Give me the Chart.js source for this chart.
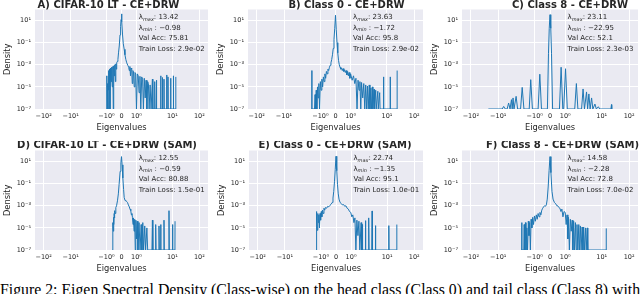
<!DOCTYPE html>
<html>
<head>
<meta charset="utf-8">
<script src="https://cdn.jsdelivr.net/npm/chart.js@4.4.0/dist/chart.umd.min.js"></script>
<style>
  html, body { margin: 0; padding: 0; background: #fff; }
  body { width: 640px; height: 294px; position: relative; overflow: hidden; }
  canvas { position: absolute; }
  #caption { position: absolute; left: 0; top: 282px; white-space: nowrap;
             font: 15.8px/16px "Liberation Serif", serif; color: #000; }
</style>
</head>
<body>
<div id="caption">Figure 2: Eigen Spectral Density (Class-wise) on the head class (Class 0) and tail class (Class 8) with</div>
<script>
// axis ticks
const xTicks = [-100, -10, -1, 0, 1, 10, 100];
const xTickLabels = ['−10²', '−10¹', '−10⁰', '0', '10⁰', '10¹', '10²'];
const yTicks = [1e-7, 1e-5, 1e-3, 1e-1, 1e1];
const yTickLabels = ['10⁻⁷', '10⁻⁵', '10⁻³', '10⁻¹', '10¹'];

const titles = [
  'A) CIFAR-10 LT - CE+DRW',
  'B) Class 0 - CE+DRW',
  'C) Class 8 - CE+DRW',
  'D) CIFAR-10 LT - CE+DRW (SAM)',
  'E) Class 0 - CE+DRW (SAM)',
  'F) Class 8 - CE+DRW (SAM)'
];
const lambdaMax = ['13.42', '23.63', '23.11', '12.55', '22.74', '14.58'];
const lambdaMin = ['−0.98', '−1.72', '−22.95', '−0.59', '−1.35', '−2.28'];
const valAcc = ['75.81', '95.8', '52.1', '80.88', '95.1', '72.8'];
const trainLoss = ['2.9e-02', '2.9e-02', '2.3e-03', '1.5e-01', '1.0e-01', '7.0e-02'];

// eigen spectral density, [eigenvalue, density]
const esdA = [
  [-0.99, 1e-7], [-0.98, 1e-4], [-0.96, 1e-7], [-0.93, 2e-5], [-0.9, 1e-7], [-0.87, 3e-4],
  [-0.84, 5e-6], [-0.8, 4e-4], [-0.77, 1e-7], [-0.74, 5e-4], [-0.7, 3e-5], [-0.66, 6e-4],
  [-0.62, 1e-5], [-0.58, 7e-4], [-0.55, 1e-7], [-0.52, 8e-4], [-0.48, 1e-4], [-0.45, 1e-3],
  [-0.41, 3e-5], [-0.38, 1.2e-3], [-0.35, 4e-4], [-0.32, 1.5e-3], [-0.28, 2e-3], [-0.24, 3e-3],
  [-0.2, 1.2e-2], [-0.15, 5e-2], [-0.1, 0.5], [-0.06, 3], [-0.03, 12], [0, 40], [0.03, 8],
  [0.07, 0.5], [0.12, 0.08], [0.18, 2.5e-2], [0.23, 8e-3], [0.29, 3e-3], [0.35, 1.5e-3],
  [0.42, 9e-4], [0.48, 6e-4], [0.52, 3e-4], [0.56, 7e-4], [0.6, 1e-4], [0.64, 5e-4],
  [0.68, 4e-4], [0.72, 2e-5], [0.76, 3e-4], [0.8, 2.5e-4], [0.85, 1e-5], [0.9, 2e-4],
  [0.95, 1.5e-4], [1.0, 1e-7], [1.06, 1.5e-4], [1.12, 1e-4], [1.18, 3e-6], [1.25, 9e-5],
  [1.32, 1e-7], [1.4, 8e-5], [1.48, 5e-5], [1.56, 1e-7], [1.65, 6e-5], [1.75, 1e-6],
  [1.85, 4e-5], [1.95, 1e-7], [2.05, 3e-5], [2.15, 2e-5], [2.25, 1e-7], [2.4, 1.5e-5],
  [2.55, 1e-7], [2.7, 1e-7], [2.78, 5e-5], [2.86, 1e-7], [3.15, 1e-7], [3.22, 3e-5],
  [3.3, 1e-7], [3.52, 1e-7], [3.59, 4e-5], [3.66, 1e-7], [4.65, 1e-7], [4.73, 1e-4],
  [4.81, 1e-7], [5.2, 1e-7], [5.27, 7e-5], [5.34, 1e-7], [5.77, 1e-7], [5.84, 5e-5],
  [5.91, 1e-7], [6.87, 1e-7], [6.95, 1.2e-4], [7.03, 1e-7], [7.47, 1e-7], [7.55, 8e-5],
  [7.63, 1e-7], [8.88, 1e-7], [8.97, 6e-5], [9.06, 1e-7], [10.8, 1e-7], [10.9, 1e-4],
  [11.0, 1e-7], [13.3, 1e-7], [13.42, 8e-5]
];
const esdB = [
  [-1.73, 1e-7], [-1.72, 3e-4], [-1.7, 1e-7], [-1.45, 1e-7], [-1.4, 2e-6], [-1.36, 1e-7],
  [-1.3, 5e-6], [-1.25, 1e-7], [-1.2, 1e-5], [-1.15, 1e-6], [-1.1, 2e-5], [-1.05, 1e-7],
  [-1.0, 3e-5], [-0.95, 5e-6], [-0.9, 5e-5], [-0.85, 1e-5], [-0.8, 8e-5], [-0.75, 3e-5],
  [-0.7, 1.5e-4], [-0.65, 6e-5], [-0.6, 2.5e-4], [-0.55, 1.5e-4], [-0.5, 4e-4], [-0.45, 3e-4],
  [-0.4, 6e-4], [-0.35, 9e-4], [-0.3, 1.5e-3], [-0.25, 3e-3], [-0.2, 8e-3], [-0.15, 3e-2],
  [-0.1, 0.2], [-0.05, 2], [0, 30], [0.05, 1.5], [0.1, 0.1], [0.15, 1.2e-2], [0.2, 2.5e-3],
  [0.25, 1e-3], [0.3, 6e-4], [0.35, 4e-4], [0.4, 5e-4], [0.45, 3e-4], [0.5, 4.5e-4],
  [0.55, 2.5e-4], [0.6, 3.5e-4], [0.65, 2e-4], [0.7, 3e-4], [0.75, 1.2e-4], [0.8, 2.5e-4],
  [0.85, 1e-4], [0.9, 2e-4], [0.95, 6e-5], [1.0, 1.5e-4], [1.1, 4e-5], [1.2, 1e-4],
  [1.3, 2e-5], [1.4, 6e-5], [1.5, 1e-7], [1.6, 4e-5], [1.7, 5e-6], [1.8, 3e-5], [1.9, 1e-7],
  [2.0, 2.5e-5], [2.15, 1e-6], [2.3, 2e-5], [2.45, 1e-7], [2.6, 1.5e-5], [2.75, 1e-7],
  [2.9, 1.2e-5], [3.05, 1e-7], [3.25, 1.5e-5], [3.4, 1e-7], [3.6, 8e-6], [3.75, 1e-7],
  [3.95, 1e-5], [4.1, 1e-7], [4.4, 6e-6], [4.55, 1e-7], [4.9, 5e-6], [5.05, 1e-7],
  [5.6, 4e-6], [5.75, 1e-7], [6.3, 3e-6], [6.45, 1e-7], [7.95, 1e-7], [8.05, 8e-5],
  [8.15, 1e-7], [13.1, 1e-7], [13.2, 8e-5], [13.3, 1e-7], [23.5, 1e-7], [23.63, 3e-4]
];
const esdC = [
  [-22.95, 1e-7], [-7.8, 1e-7], [-7.1, 1.7e-7], [-6.4, 1e-7], [-5.7, 1e-7], [-5.2, 3.5e-7],
  [-4.75, 1e-7], [-4.6, 1e-7], [-4.35, 7e-7], [-4.15, 1e-7], [-3.93, 1e-6], [-3.7, 1e-7],
  [-3.55, 1e-7], [-3.24, 1.4e-6], [-2.95, 1e-7], [-2.45, 1e-7], [-2.21, 9e-6], [-1.98, 1e-7],
  [-1.42, 1e-7], [-1.29, 4.5e-5], [-1.16, 1e-7], [-0.78, 1e-7], [-0.67, 1.4e-4], [-0.56, 1e-7],
  [-0.17, 1e-7], [-0.1, 1e-2], [-0.05, 2], [0, 34], [0.05, 2], [0.1, 1e-2], [0.17, 1e-7],
  [0.62, 1e-7], [0.73, 6e-4], [0.84, 1e-7], [0.9, 1e-7], [1.02, 4.4e-4], [1.14, 1e-7],
  [1.82, 1e-7], [2.02, 2e-5], [2.22, 1e-7], [2.8, 1e-7], [3.08, 6.5e-6], [3.36, 1e-7],
  [3.83, 3.5e-6], [4.1, 1e-7], [4.44, 2.3e-6], [4.8, 1e-7], [5.27, 1e-6], [5.7, 1e-7],
  [6.5, 2.8e-7], [7.1, 1e-7], [8.05, 1.6e-7], [8.8, 1e-7], [21.6, 1e-7], [22.6, 2.5e-7],
  [23.11, 1e-7]
];
const esdD = [
  [-0.6, 1e-7], [-0.59, 6e-6], [-0.57, 3e-5], [-0.55, 5e-6], [-0.53, 9e-5], [-0.51, 2e-5],
  [-0.49, 2e-4], [-0.47, 8e-5], [-0.45, 3.6e-4], [-0.42, 2e-4], [-0.38, 7e-4], [-0.33, 1e-3],
  [-0.27, 2.8e-3], [-0.21, 1.2e-2], [-0.16, 8.5e-2], [-0.09, 1.3], [-0.04, 8], [0, 28],
  [0.04, 5], [0.09, 0.33], [0.14, 3e-2], [0.18, 5.5e-3], [0.24, 3e-3], [0.29, 2.8e-3],
  [0.35, 2.4e-3], [0.4, 2e-3], [0.46, 1.2e-3], [0.52, 8e-4], [0.57, 5e-4], [0.62, 3.6e-4],
  [0.66, 1.5e-4], [0.7, 2e-4], [0.73, 9e-5], [0.77, 2e-5], [0.8, 8e-5], [0.84, 5e-6],
  [0.88, 6e-5], [0.92, 1e-7], [0.96, 5e-5], [1.0, 1e-6], [1.05, 4e-5], [1.1, 1e-7],
  [1.18, 3e-5], [1.26, 1e-7], [1.35, 2e-5], [1.42, 1e-7], [1.5, 3e-5], [1.58, 1e-7],
  [1.7, 1.5e-5], [1.8, 1e-7], [1.95, 1e-5], [2.05, 1e-7], [2.7, 1e-7], [2.78, 5e-5],
  [2.86, 1e-7], [3.35, 1e-7], [3.43, 2e-5], [3.51, 1e-7], [4.15, 1e-7], [4.24, 1.5e-5],
  [4.33, 1e-7], [4.65, 1e-7], [4.73, 2e-5], [4.81, 1e-7], [5.75, 1e-7], [5.84, 5e-5],
  [5.95, 1e-7], [7.9, 1e-7], [8.05, 3.6e-4], [8.2, 1e-7], [10.1, 1e-7], [10.2, 2e-5],
  [10.3, 1e-7], [12.45, 1e-7], [12.55, 4e-5]
];
const esdE = [
  [-1.36, 1e-7], [-1.35, 3e-4], [-1.32, 5e-6], [-1.29, 1e-4], [-1.26, 6e-6], [-1.22, 2e-4],
  [-1.18, 3e-5], [-1.14, 1.5e-4], [-1.1, 1e-5], [-1.06, 2e-4], [-1.02, 5e-5], [-0.98, 3e-4],
  [-0.94, 1e-4], [-0.9, 4e-4], [-0.85, 2e-4], [-0.8, 6e-4], [-0.75, 4e-4], [-0.7, 7e-4],
  [-0.62, 6e-4], [-0.55, 9e-4], [-0.48, 8e-4], [-0.4, 1.1e-3], [-0.32, 1.4e-3], [-0.25, 2e-3],
  [-0.2, 5e-3], [-0.15, 2e-2], [-0.1, 0.15], [-0.05, 2], [0, 30], [0.05, 1.5], [0.1, 0.08],
  [0.15, 1.2e-2], [0.2, 4e-3], [0.27, 2e-3], [0.35, 1.6e-3], [0.42, 1.2e-3], [0.5, 1.3e-3],
  [0.58, 9e-4], [0.66, 1e-3], [0.74, 6e-4], [0.82, 5e-4], [0.9, 3e-4], [0.98, 2.5e-4],
  [1.05, 1e-4], [1.12, 1.5e-4], [1.2, 3e-5], [1.28, 8e-5], [1.36, 1e-7], [1.45, 5e-5],
  [1.55, 2e-6], [1.65, 4e-5], [1.75, 1e-7], [1.9, 3e-5], [1.97, 1e-7], [2.02, 2e-5],
  [2.08, 1e-7], [2.44, 1e-7], [2.5, 4.5e-5], [2.56, 1e-7], [3.0, 1e-7], [3.08, 8e-5],
  [3.16, 1e-7], [3.74, 1e-7], [3.83, 3.4e-4], [3.92, 1e-7], [4.63, 1e-7], [4.73, 1.6e-5],
  [4.83, 1e-7], [11.3, 1e-7], [11.5, 1.6e-5], [11.7, 1e-7], [22.5, 1e-7], [22.74, 2e-5]
];
const esdF = [
  [-2.29, 1e-7], [-2.28, 3e-5], [-2.24, 1e-7], [-2.0, 1e-7], [-1.95, 2e-5], [-1.9, 1e-7],
  [-1.8, 3e-5], [-1.74, 1e-7], [-1.65, 1e-5], [-1.58, 1e-7], [-1.5, 4e-5], [-1.44, 2e-6],
  [-1.38, 3e-5], [-1.32, 1e-7], [-1.26, 6e-5], [-1.2, 1e-5], [-1.14, 9e-5], [-1.08, 2e-5],
  [-1.02, 1.2e-4], [-0.96, 4e-5], [-0.9, 1.5e-4], [-0.84, 6e-5], [-0.78, 2e-4], [-0.72, 1e-4],
  [-0.66, 2.5e-4], [-0.6, 1.5e-4], [-0.54, 4e-4], [-0.48, 6e-4], [-0.42, 8e-4], [-0.36, 1e-3],
  [-0.3, 9e-4], [-0.24, 1.2e-3], [-0.18, 4e-3], [-0.12, 5e-2], [-0.06, 1.5], [0, 28],
  [0.06, 1], [0.13, 2e-2], [0.2, 4e-3], [0.29, 2e-3], [0.38, 1.5e-3], [0.45, 1e-3],
  [0.51, 1e-3], [0.58, 7e-4], [0.65, 6e-4], [0.72, 3e-4], [0.78, 5e-4], [0.85, 1e-4],
  [0.92, 3e-4], [1.0, 2.5e-4], [1.06, 2e-5], [1.12, 1.5e-4], [1.18, 1e-6], [1.23, 9e-5],
  [1.3, 1e-7], [1.38, 6e-5], [1.46, 5e-6], [1.55, 5e-5], [1.62, 1e-7], [1.7, 4e-5],
  [1.8, 1e-7], [1.9, 3e-5], [2.0, 1e-7], [2.1, 2e-5], [2.22, 1e-7], [2.35, 2e-5],
  [2.45, 1e-7], [2.6, 1.5e-5], [2.72, 1e-7], [2.9, 1.2e-5], [3.05, 1e-7], [3.2, 1.2e-5],
  [3.35, 1e-7], [3.6, 1e-5], [3.75, 1e-7], [4.0, 1e-5], [4.15, 1e-7], [14.4, 1e-7],
  [14.58, 9e-6]
];
const series = [esdA, esdB, esdC, esdD, esdE, esdF];

// plot rectangles on the page
const boxes = [
  { left: 35, top: 9.5, w: 173, titleX: 108.5 },
  { left: 248, top: 9.5, w: 175, titleX: 346.5 },
  { left: 462, top: 9.5, w: 176, titleX: 570 },
  { left: 35, top: 150.5, w: 173, titleX: 107 },
  { left: 249, top: 150.5, w: 174, titleX: 335 },
  { left: 462, top: 150.5, w: 176, titleX: 562.5 }
];
const PLOT_H = 99.5, YAXIS_W = 35, XAXIS_H = 27;
const TEXT = '#262626';
const FONT = '"DejaVu Sans", sans-serif';

function symFwd(v) {
  const a = Math.abs(v), s = Math.sign(v);
  if (a <= 1) return s * 15 * a;
  if (a <= 10) return s * (15 + 36 * Math.log10(a));
  return s * (51 + 27 * Math.log10(a / 10));
}
function symInv(t) {
  const a = Math.abs(t), s = Math.sign(t);
  if (a <= 15) return s * a / 15;
  if (a <= 51) return s * Math.pow(10, (a - 15) / 36);
  return s * 10 * Math.pow(10, (a - 51) / 27);
}

const LinearScale = Chart.LinearScale || Chart.registry.getScale('linear');
class SymlogScale extends LinearScale {
  getPixelForValue(v) {
    const a = symFwd(this.min), b = symFwd(this.max);
    return this.getPixelForDecimal((symFwd(v) - a) / (b - a));
  }
  getValueForPixel(p) {
    const a = symFwd(this.min), b = symFwd(this.max);
    return symInv(a + this.getDecimalForPixel(p) * (b - a));
  }
}
SymlogScale.id = 'symlog';
SymlogScale.defaults = LinearScale.defaults;
Chart.register(SymlogScale);

function drawLambda(ctx, x, y, sub, rest) {
  ctx.font = '7px ' + FONT;
  ctx.fillText('λ', x, y);
  let cx = x + ctx.measureText('λ').width;
  ctx.font = 'italic 5px ' + FONT;
  ctx.fillText(sub, cx, y + 1.8);
  cx += ctx.measureText(sub).width;
  ctx.font = '7px ' + FONT;
  ctx.fillText(rest, cx, y);
}

function panelPlugin(i, canvasLeft, canvasTop) {
  return {
    id: 'panel' + i,
    beforeDraw(chart) {
      const { ctx, chartArea: a } = chart;
      ctx.save();
      ctx.fillStyle = '#EAEAF2';
      ctx.fillRect(a.left, a.top, a.right - a.left, a.bottom - a.top);
      ctx.restore();
    },
    afterDraw(chart) {
      const { ctx, chartArea: a } = chart;
      ctx.save();
      ctx.fillStyle = TEXT;
      ctx.textAlign = 'center';
      ctx.textBaseline = 'middle';
      ctx.font = 'bold 10px ' + FONT;
      ctx.fillText(titles[i], boxes[i].titleX - canvasLeft, (i < 3 ? 5 : 145) - canvasTop);

      ctx.textAlign = 'left';
      ctx.textBaseline = 'alphabetic';
      const x0 = a.left + 0.6 * (a.right - a.left);
      const y0 = a.top + 9.5, lh = 10.6;
      drawLambda(ctx, x0, y0, 'max', ': ' + lambdaMax[i]);
      drawLambda(ctx, x0, y0 + lh, 'min', ' : ' + lambdaMin[i]);
      ctx.font = '7px ' + FONT;
      ctx.fillText('Val Acc: ' + valAcc[i], x0, y0 + 2 * lh);
      ctx.fillText('Train Loss: ' + trainLoss[i], x0, y0 + 3 * lh);
      ctx.restore();
    }
  };
}

boxes.forEach((b, i) => {
  const canvas = document.createElement('canvas');
  const cl = b.left - YAXIS_W, ct = b.top - 9.5;
  canvas.width = YAXIS_W + b.w + 2;
  canvas.height = 9.5 + PLOT_H + XAXIS_H;
  canvas.style.left = cl + 'px';
  canvas.style.top = ct + 'px';
  document.body.appendChild(canvas);

  new Chart(canvas.getContext('2d'), {
    type: 'line',
    data: {
      datasets: [{
        data: series[i].map(([x, y]) => ({ x, y })),
        borderColor: '#1f77b4',
        borderWidth: 1,
        borderJoinStyle: 'round',
        pointRadius: 0,
        tension: 0,
        fill: false
      }]
    },
    options: {
      responsive: false,
      animation: false,
      events: [],
      layout: { padding: { top: 9.5, right: 2, left: 0, bottom: 0 } },
      plugins: { legend: { display: false }, tooltip: { enabled: false } },
      scales: {
        x: {
          type: 'symlog',
          min: -210,
          max: 210,
          afterBuildTicks: s => { s.ticks = xTicks.map(v => ({ value: v })); },
          afterFit: s => { s.height = XAXIS_H; },
          ticks: {
            autoSkip: false,
            maxRotation: 0,
            padding: 3.5,
            color: TEXT,
            font: { family: FONT, size: 6.5 },
            callback: v => xTickLabels[xTicks.indexOf(v)]
          },
          grid: { color: '#ffffff', lineWidth: 1, drawTicks: false },
          border: { display: false },
          title: { display: true, text: 'Eigenvalues', color: TEXT,
                   font: { family: FONT, size: 8.3 }, padding: { top: 0, bottom: 3.3 } }
        },
        y: {
          type: 'logarithmic',
          min: 1e-7,
          max: 100,
          afterBuildTicks: s => { s.ticks = yTicks.map(v => ({ value: v })); },
          afterFit: s => { s.width = YAXIS_W; },
          ticks: {
            autoSkip: false,
            padding: 4,
            color: TEXT,
            font: { family: FONT, size: 6.5 },
            callback: v => yTickLabels[yTicks.indexOf(v)]
          },
          grid: { color: '#ffffff', lineWidth: 1, drawTicks: false },
          border: { display: false },
          title: { display: true, text: 'Density', color: TEXT,
                   font: { family: FONT, size: 8.3 }, padding: { top: 2.7, bottom: 0 } }
        }
      }
    },
    plugins: [panelPlugin(i, cl, ct)]
  });
});
</script>
</body>
</html>
